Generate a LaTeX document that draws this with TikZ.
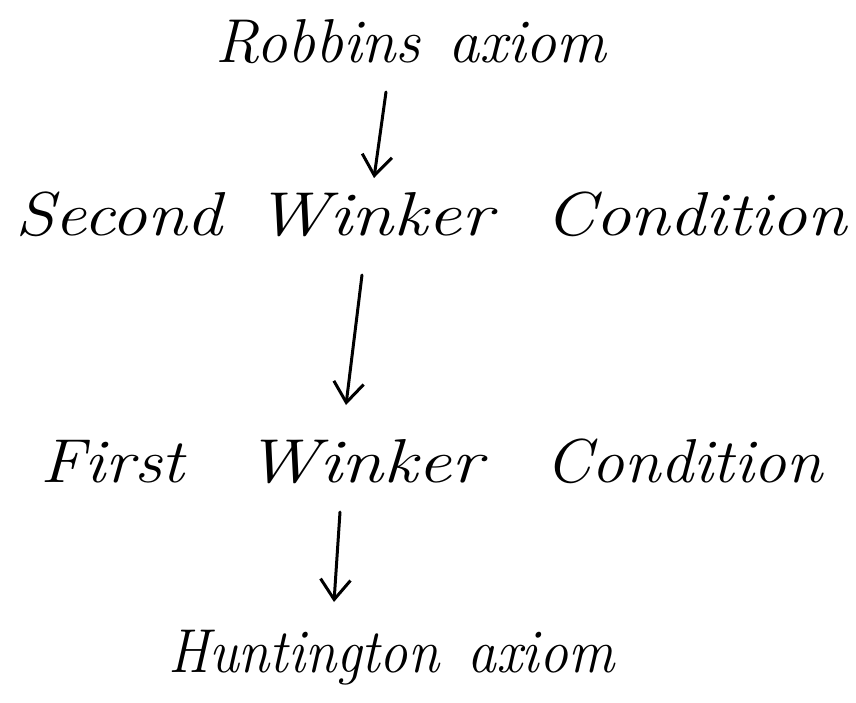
\documentclass[tikz,border=0pt]{standalone}
\usetikzlibrary{arrows.meta}
\begin{document}
\begin{tikzpicture}[x=1pt,y=-1pt,
  word/.style={anchor=base west,inner sep=0pt,font=\fontsize{62}{62}\selectfont\itshape},
  conn/.style={line width=3pt,line cap=round,-{Straight Barb[length=20pt,width=30pt,line width=3pt]}}]
\useasboundingbox (0,0) rectangle (856,702);
\node[word] (r1) at (215,62) {Robbins};
\node[word] (r2) at (448,62) {axiom};
\node[word] (s1) at (15,235) {\scalebox{1.15}[1]{Second}};
\node[word] (s2) at (255,235) {\scalebox{1.22}[1]{Winker}};
\node[word] (s3) at (545,235) {\scalebox{1.15}[1]{Condition}};
\node[word] (f1) at (40,482) {\scalebox{1.12}[1]{First}};
\node[word] (f2) at (245,482) {\scalebox{1.22}[1]{Winker}};
\node[word] (f3) at (545,482) {\scalebox{1.06}[1]{Condition}};
\node[word] (h1) at (168,672) {\scalebox{0.91}[1]{Huntington}};
\node[word] (h2) at (467,672) {\scalebox{0.93}[1]{axiom}};
\coordinate (a1s) at (386,92); \coordinate (a1e) at (374,178);
\coordinate (a2s) at (362,275); \coordinate (a2e) at (346,405);
\coordinate (a3s) at (340,512); \coordinate (a3e) at (334,602);
\draw[conn] (a1s) -- (a1e);
\draw[conn] (a2s) -- (a2e);
\draw[conn] (a3s) -- (a3e);
\end{tikzpicture}
\end{document}
